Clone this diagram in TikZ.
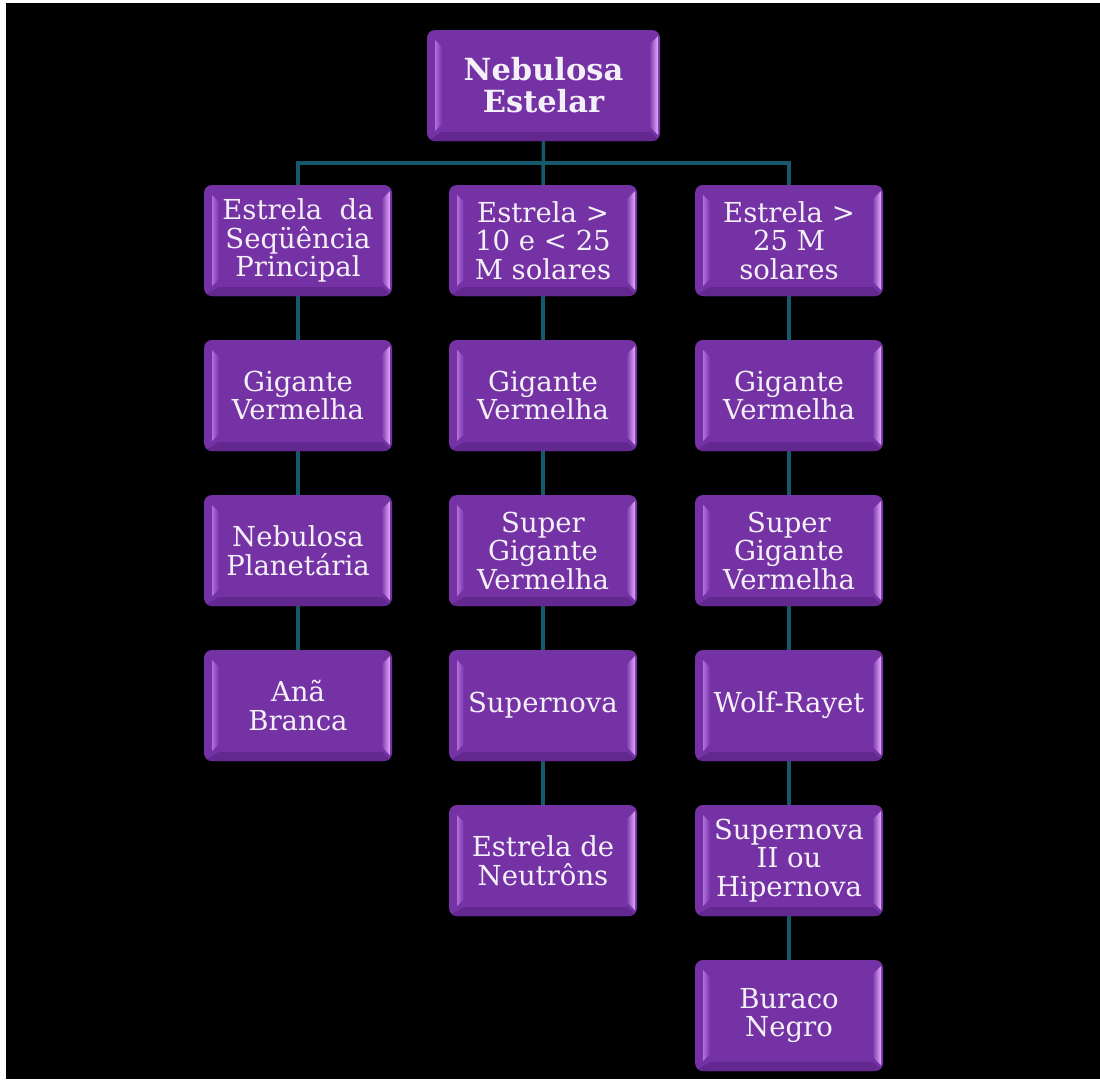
\documentclass[tikz,border=0pt]{standalone}
\usepackage{fontspec}
\setmainfont{DejaVu Serif}
\usetikzlibrary{calc,backgrounds}
\definecolor{face}{RGB}{116,50,164}
\definecolor{lav}{RGB}{178,112,222}
\definecolor{pinkb}{RGB}{228,170,255}
\definecolor{darkb}{RGB}{98,40,144}
\definecolor{conncol}{RGB}{22,88,108}
\definecolor{txt}{RGB}{244,240,248}
\newcommand{\bodyfont}{\fontsize{27.5}{28.5}\selectfont}
\newcommand{\titlefont}{\fontsize{30.5}{32}\selectfont\bfseries}
\tikzset{
  bevelbox/.style={fill=face, rounded corners=8pt, minimum width=188pt, minimum height=111pt,
    inner sep=0pt, text=txt, align=center, font=\bodyfont,
    path picture={
      \coordinate (pnw) at (path picture bounding box.north west);
      \coordinate (pse) at (path picture bounding box.south east);
      \coordinate (pne) at (pse |- pnw);
      \coordinate (psw) at (pnw |- pse);
      \fill[darkb, sharp corners] (psw) -- (pse) -- ($(pse)+(-10pt,9pt)$) -- ($(psw)+(15pt,9pt)$) -- cycle;
      \shade[sharp corners, left color=lav, right color=face]
        ($(pnw)+(8pt,-10pt)$) -- ($(pnw)+(15pt,-17pt)$) -- ($(psw)+(15pt,17pt)$) -- ($(psw)+(8pt,10pt)$) -- cycle;
      \shade[sharp corners, left color=face, right color=pinkb]
        ($(pne)+(-11pt,-15pt)$) -- ($(pne)+(-2pt,-6pt)$) -- ($(pse)+(-2pt,6pt)$) -- ($(pse)+(-11pt,15pt)$) -- cycle;
    }},
  titlebox/.style={bevelbox, minimum width=233pt, font=\titlefont},
  conn/.style={draw=conncol, line width=3.5pt}
}
\begin{document}
\begin{tikzpicture}[x=1pt,y=-1pt]
\useasboundingbox (0,0) rectangle (1100,1079);
% nodes
\node[titlebox] (title) at (543.5,85.5) {Nebulosa\\Estelar};
\node[bevelbox] (a1) at (298,240.5) {Estrela~~da\\Seqüência\\Principal};
\node[bevelbox] (a2) at (298,395.5) {Gigante\\Vermelha};
\node[bevelbox] (a3) at (298,550.5) {Nebulosa\\Planetária};
\node[bevelbox] (a4) at (298,705.5) {Anã\\Branca};
\node[bevelbox] (b1) at (543,240.5) {Estrela >\\10 e < 25\\M solares};
\node[bevelbox] (b2) at (543,395.5) {Gigante\\Vermelha};
\node[bevelbox] (b3) at (543,550.5) {Super\\Gigante\\Vermelha};
\node[bevelbox] (b4) at (543,705.5) {Supernova};
\node[bevelbox] (b5) at (543,860.5) {Estrela de\\Neutrôns};
\node[bevelbox] (c1) at (789,240.5) {Estrela >\\25 M\\solares};
\node[bevelbox] (c2) at (789,395.5) {Gigante\\Vermelha};
\node[bevelbox] (c3) at (789,550.5) {Super\\Gigante\\Vermelha};
\node[bevelbox] (c4) at (789,705.5) {Wolf-Rayet};
\node[bevelbox] (c5) at (789,860.5) {Supernova\\II ou\\Hipernova};
\node[bevelbox] (c6) at (789,1015.5) {Buraco\\Negro};
\coordinate (hub) at (543,163);
\begin{scope}[on background layer]
\fill[white] (0,0) rectangle (1100,1079);
\fill[black] (6,3) rectangle (1100,1079);
\draw[conn] (title.south) -- (b1.north);
\draw[conn] (a1.north) -- (a1.north |- hub) -- (c1.north |- hub) -- (c1.north);
\draw[conn] (a1) -- (a2) -- (a3) -- (a4);
\draw[conn] (b1) -- (b2) -- (b3) -- (b4) -- (b5);
\draw[conn] (c1) -- (c2) -- (c3) -- (c4) -- (c5) -- (c6);
\end{scope}
\end{tikzpicture}
\end{document}
